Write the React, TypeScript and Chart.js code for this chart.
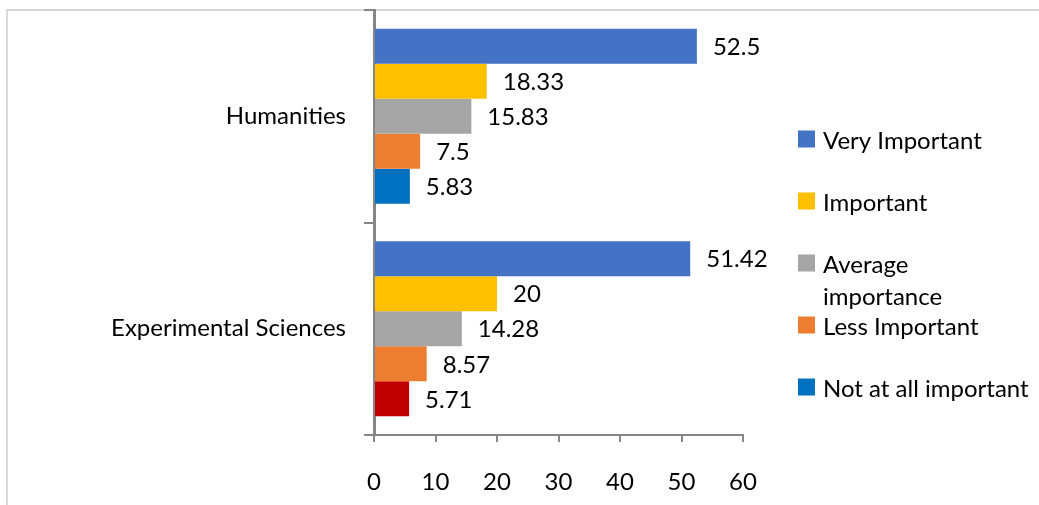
import React, { useEffect, useRef } from "react";
import { Chart, registerables } from "chart.js";

Chart.register(...registerables);

// Survey categories (top to bottom)
const categories = ["Humanities", "Experimental Sciences"];

// Share of respondents per importance level (%)
const veryImportant = [52.5, 51.42];
const important = [18.33, 20];
const averageImportance = [15.83, 14.28];
const lessImportant = [7.5, 8.57];
const notAtAllImportant = [5.83, 5.71];

const seriesNames = [
  "Very Important",
  "Important",
  "Average importance",
  "Less Important",
  "Not at all important",
];

// Legend text, one entry per series, split into display lines
const legendLines = [
  ["Very Important"],
  ["Important"],
  ["Average", "importance"],
  ["Less Important"],
  ["Not at all important"],
];

const legendColors = ["#4472C4", "#FFC000", "#A5A5A5", "#ED7D31", "#0070C0"];
// The last series uses a different fill for the second category
const notAtAllBarColors = ["#0070C0", "#C00000"];

const X_MIN = 0;
const X_MAX = 60;
const X_STEP = 10;

const FONT = "Lato, 'Liberation Sans', sans-serif";
const FONT_SIZE = 24;
const AXIS_COLOR = "#868686";

const framePlugin = {
  id: "frame",
  beforeDraw(chart: any) {
    const { ctx, width, height } = chart;
    ctx.save();
    ctx.fillStyle = "#ffffff";
    ctx.fillRect(0, 0, width, height);
    ctx.strokeStyle = "#d9d9d9";
    ctx.lineWidth = 2;
    ctx.strokeRect(7, 10, width + 20, height + 20);
    ctx.restore();
  },
};

const valueLabelPlugin = {
  id: "valueLabels",
  afterDatasetsDraw(chart: any) {
    const { ctx } = chart;
    ctx.save();
    ctx.font = `${FONT_SIZE}px ${FONT}`;
    ctx.fillStyle = "#000000";
    ctx.textAlign = "left";
    ctx.textBaseline = "middle";
    chart.data.datasets.forEach((ds: any, di: number) => {
      const meta = chart.getDatasetMeta(di);
      meta.data.forEach((el: any, i: number) => {
        ctx.fillText(String(ds.data[i]), el.x + 16, el.y + 1);
      });
    });
    ctx.restore();
  },
};

const sideLegendPlugin = {
  id: "sideLegend",
  afterDraw(chart: any) {
    const { ctx } = chart;
    const boxX = 798;
    const textX = 823;
    const firstCenter = 139;
    const spacing = 62;
    const lineHeight = 32;
    const box = 17;
    ctx.save();
    ctx.font = `${FONT_SIZE}px ${FONT}`;
    ctx.textAlign = "left";
    ctx.textBaseline = "middle";
    legendLines.forEach((lines, i) => {
      const cy = firstCenter + i * spacing;
      ctx.fillStyle = legendColors[i];
      ctx.fillRect(boxX, cy - box / 2, box, box);
      ctx.fillStyle = "#000000";
      lines.forEach((line, li) => {
        ctx.fillText(line, textX, cy + 2 + li * lineHeight);
      });
    });
    ctx.restore();
  },
};

export default function App() {
  const canvasRef = useRef<HTMLCanvasElement | null>(null);

  useEffect(() => {
    document.body.style.margin = "0";
    const canvas = canvasRef.current;
    if (!canvas) return;

    const seriesData = [
      veryImportant,
      important,
      averageImportance,
      lessImportant,
      notAtAllImportant,
    ];

    const chart = new Chart(canvas, {
      type: "bar",
      data: {
        labels: categories,
        datasets: seriesData.map((data, i) => ({
          label: seriesNames[i],
          data,
          backgroundColor: i === 4 ? notAtAllBarColors : legendColors[i],
          borderWidth: 0,
          barPercentage: 1,
          categoryPercentage: 0.824,
        })),
      },
      options: {
        indexAxis: "y",
        animation: false,
        responsive: false,
        maintainAspectRatio: false,
        layout: { padding: { left: 0, right: 296, top: 10, bottom: 0 } },
        plugins: {
          legend: { display: false },
          tooltip: { enabled: false },
        },
        scales: {
          x: {
            type: "linear",
            min: X_MIN,
            max: X_MAX,
            ticks: {
              stepSize: X_STEP,
              color: "#000000",
              font: { family: FONT, size: FONT_SIZE },
              padding: 26,
            },
            grid: {
              drawOnChartArea: false,
              drawTicks: true,
              tickLength: 7,
              color: AXIS_COLOR,
              lineWidth: 2,
            },
            border: { color: AXIS_COLOR, width: 2 },
            afterFit(scale: any) {
              scale.height = 70;
              scale.paddingLeft = 0;
              scale.paddingRight = 0;
            },
          },
          y: {
            type: "category",
            ticks: {
              color: "#000000",
              font: { family: FONT, size: FONT_SIZE },
              padding: 18,
            },
            grid: {
              drawOnChartArea: false,
              drawTicks: true,
              tickLength: 10,
              color: AXIS_COLOR,
              lineWidth: 2,
              offset: true,
            },
            border: { color: AXIS_COLOR, width: 3 },
            afterFit(scale: any) {
              scale.width = 374;
              scale.paddingTop = 0;
              scale.paddingBottom = 0;
            },
          },
        },
      },
      plugins: [framePlugin, valueLabelPlugin, sideLegendPlugin],
    } as any);

    return () => chart.destroy();
  }, []);

  return (
    <div style={{ width: 1039, height: 505 }}>
      <canvas ref={canvasRef} width={1039} height={505} />
    </div>
  );
}
